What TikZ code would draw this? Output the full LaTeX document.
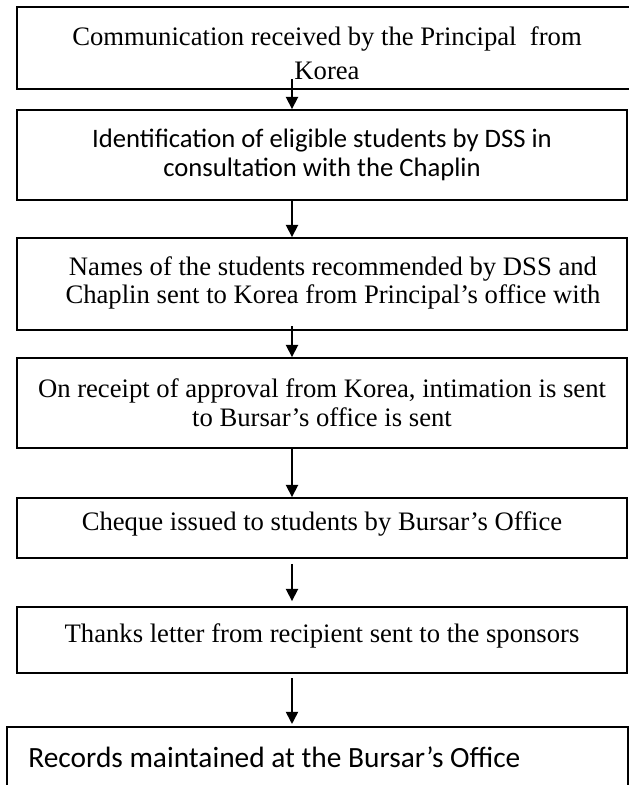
\documentclass[tikz,border=0pt]{standalone}
\usepackage{fontspec}
\setmainfont{Liberation Serif}
\newfontfamily\calibri{Carlito}
\usetikzlibrary{arrows.meta}
\begin{document}
\begin{tikzpicture}[x=0.48pt,y=-0.48pt,
  box/.style={draw, line width=0.9pt, rectangle, inner sep=0pt, align=center},
  tnr/.style={font=\fontsize{12.8pt}{13.8pt}\selectfont, align=center, inner sep=0pt},
  cal/.style={font=\calibri\fontsize{12.8pt}{14pt}\selectfont, align=center},
  calbig/.style={font=\calibri\fontsize{14.1pt}{16pt}\selectfont, inner sep=0pt},
  arr/.style={-{Triangle[width=5.8pt,length=5.8pt]}, line width=0.8pt}]
\useasboundingbox (0,0) rectangle (629,785);
\clip (0,0) rectangle (629,785);
% boxes
\node[box, minimum width=623*0.48pt, minimum height=82*0.48pt] (b1) at (328.5,48) {};
\node[box, cal, minimum width=610*0.48pt, minimum height=90*0.48pt] (b2) at (322,155)
  {Identification of eligible students by DSS in\\consultation with the Chaplin};
\node[box, minimum width=610*0.48pt, minimum height=92*0.48pt] (b3) at (322,284) {};
\node[box, tnr, minimum width=610*0.48pt, minimum height=90*0.48pt] (b4) at (322,403)
  {On receipt of approval from Korea, intimation is sent\\to Bursar’s office is sent};
\node[box, minimum width=610*0.48pt, minimum height=60*0.48pt] (b5) at (322,528) {};
\node[box, minimum width=610*0.48pt, minimum height=66*0.48pt] (b6) at (322,640) {};
\node[box, minimum width=621*0.48pt, minimum height=73*0.48pt] (b7) at (317.5,763.5) {};
% texts
\node[tnr, font=\fontsize{12.8pt}{16.5pt}\selectfont] (t1) at (327,53)
  {Communication received by the Principal\ \ from\\Korea};
\node[tnr] (t3) at (333,283)
  {Names of the students recommended by DSS and\\Chaplin sent to Korea from Principal’s office with};
\node[tnr] (t5) at (322,524) {Cheque issued to students by Bursar’s Office};
\node[tnr] (t6) at (322,636) {Thanks letter from recipient sent to the sponsors};
\node[calbig, anchor=west] (t7) at (28,757) {Records maintained at the Bursar’s Office};
% arrows
\coordinate (ax) at (292,0);
\coordinate (a1s) at (292,79);
\coordinate (a3s) at (292,326);
\draw[arr] (a1s) -- (a1s |- b2.north);
\draw[arr] (b2.south -| ax) -- (b3.north -| ax);
\draw[arr] (a3s) -- (a3s |- b4.north);
\draw[arr] (b4.south -| ax) -- (b5.north -| ax);
\draw[arr, shorten <=2.4pt, shorten >=2.4pt] (b5.south -| ax) -- (b6.north -| ax);
\draw[arr, shorten <=2pt, shorten >=1pt] (b6.south -| ax) -- (b7.north -| ax);
\end{tikzpicture}
\end{document}
